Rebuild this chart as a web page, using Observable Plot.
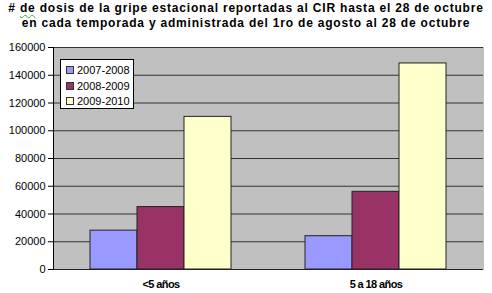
<!DOCTYPE html>
<html><head><meta charset="utf-8">
<script src="https://cdn.jsdelivr.net/npm/d3@7"></script>
<script src="https://cdn.jsdelivr.net/npm/@observablehq/plot@0.6"></script>
<style>
body{margin:0;background:#fff;font-family:"Liberation Sans",Arial,sans-serif;}
#wrap{position:relative;width:492px;height:293px;overflow:hidden;}
#title{height:36px;font-weight:bold;font-size:12px;line-height:14.5px;letter-spacing:0.8px;text-align:center;padding-top:1px;box-sizing:border-box;white-space:nowrap;color:#000;}
#title .sq{text-decoration:underline wavy #3a3;text-decoration-thickness:1px;text-underline-offset:2px;}
#legend{position:absolute;left:60px;top:59px;width:74px;height:50px;box-sizing:border-box;border:1px solid #000;background:#fff;font-size:11px;padding-top:2px;}
#legend .row{height:15.7px;display:flex;align-items:center;padding-left:5px;}
#legend .sw{width:6px;height:6px;border:1px solid #333;margin-right:3px;}
svg{display:block;}
g[aria-label="fx-axis tick label"] text{letter-spacing:-0.6px;}
</style></head>
<body>
<div id="wrap">
<div id="title"># <span class="sq">de</span> dosis de la gripe estacional reportadas al CIR hasta el 28 de octubre<br>en cada temporada y administrada del 1ro de agosto al 28 de octubre</div>
<div id="chart"></div>
<div id="legend"></div>
</div>
<script>
const categories = ["<5 años", "5 a 18 años"];
const seasons = ["2007-2008", "2008-2009", "2009-2010"];
const dosesUnder5 = [28000, 45000, 110000];
const doses5to18 = [24000, 56000, 148500];
const seasonColors = ["#9999ff", "#993366", "#ffffcc"];
const yTicks = [0, 20000, 40000, 60000, 80000, 100000, 120000, 140000, 160000];

const table = [];
seasons.forEach((s, i) => {
  table.push({cat: categories[0], season: s, value: dosesUnder5[i]});
  table.push({cat: categories[1], season: s, value: doses5to18[i]});
});

const chart = Plot.plot({
  width: 492, height: 257,
  marginTop: 11, marginBottom: 24, marginLeft: 52, marginRight: 9,
  style: {fontFamily: '"Liberation Sans", Arial, sans-serif', fontSize: "11px", color: "#000", background: "#fff"},
  fx: {domain: categories, padding: 0, label: null},
  x: {domain: seasons, paddingInner: 0, paddingOuter: 0.75, axis: null},
  y: {domain: [0, 160000], label: null},
  color: {domain: seasons, range: seasonColors},
  marks: [
    Plot.frame({fill: "#c0c0c0", stroke: "#c0c0c0"}),
    Plot.gridY(yTicks, {stroke: "#333", strokeOpacity: 1}),
    Plot.axisY(yTicks, {tickSize: 5, tickPadding: 3, tickFormat: d => String(d), label: null, fontSize: 11}),
    Plot.axisFx({anchor: "bottom", tickSize: 0, tickPadding: 11, label: null, fontWeight: "bold", fontSize: 11}),
    Plot.barY(table, {fx: "cat", x: "season", y: "value", fill: "season", stroke: "#222", strokeWidth: 1}),
    Plot.ruleY([0], {stroke: "#222"}),
    Plot.frame({anchor: "left", stroke: "#000", fx: [categories[0]]})
  ]
});
document.getElementById("chart").appendChild(chart);

const leg = document.getElementById("legend");
seasons.forEach((s, i) => {
  const row = document.createElement("div");
  row.className = "row";
  const sw = document.createElement("span");
  sw.className = "sw";
  sw.style.background = seasonColors[i];
  row.appendChild(sw);
  row.appendChild(document.createTextNode(s));
  leg.appendChild(row);
});
</script>
</body></html>
